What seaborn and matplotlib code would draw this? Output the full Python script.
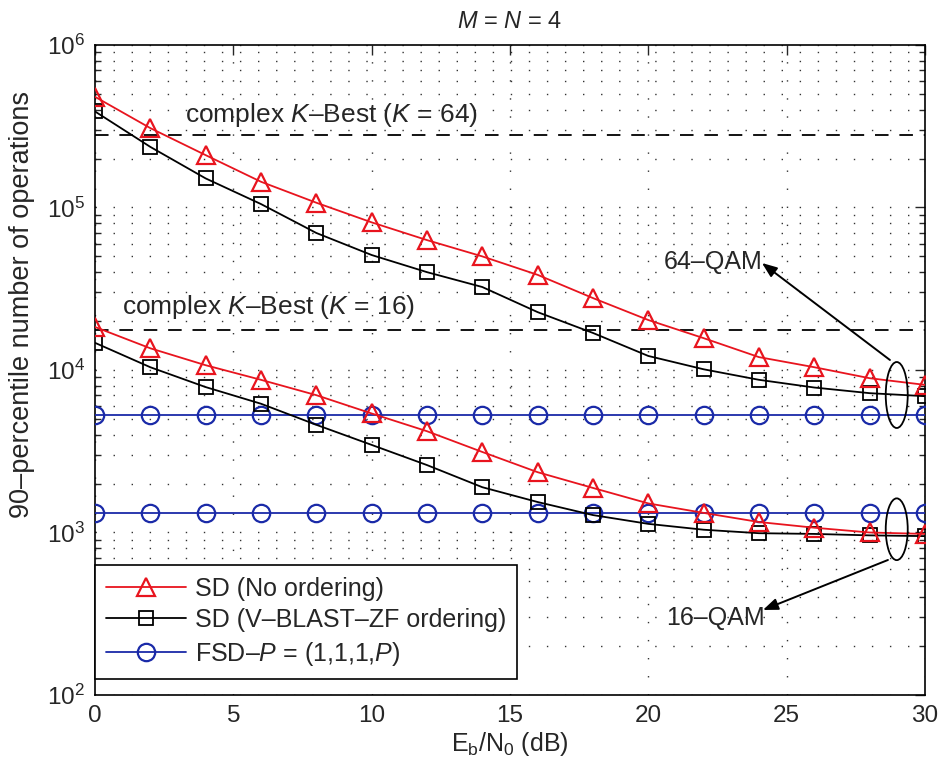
import numpy as np
import pandas as pd
import matplotlib
matplotlib.use("Agg")
import matplotlib.pyplot as plt
import seaborn as sns
from matplotlib.patches import Ellipse
from matplotlib.lines import Line2D
from matplotlib.ticker import LogLocator, FixedLocator, NullFormatter

# ---------------- data ----------------
snr_db = [0, 2, 4, 6, 8, 10, 12, 14, 16, 18, 20, 22, 24, 26, 28, 30]

sd_noorder_64 = [4.8e5, 3.08e5, 2.1e5, 1.44e5, 1.07e5, 8.1e4, 6.3e4, 5.0e4,
                 3.85e4, 2.77e4, 2.03e4, 1.57e4, 1.2e4, 1.04e4, 8.9e3, 8.1e3]
sd_vblast_64 = [3.9e5, 2.36e5, 1.51e5, 1.05e5, 6.97e4, 5.1e4, 4.0e4, 3.24e4,
                2.27e4, 1.69e4, 1.22e4, 1.01e4, 8.7e3, 7.8e3, 7.2e3, 6.9e3]
fsd_64 = [5.3e3] * 16

sd_noorder_16 = [1.84e4, 1.36e4, 1.07e4, 8.7e3, 7.0e3, 5.4e3, 4.2e3, 3.13e3,
                 2.35e3, 1.88e3, 1.51e3, 1.32e3, 1.16e3, 1.07e3, 1.0e3, 9.8e2]
sd_vblast_16 = [1.47e4, 1.04e4, 7.85e3, 6.2e3, 4.6e3, 3.46e3, 2.6e3, 1.9e3,
                1.54e3, 1.28e3, 1.13e3, 1.04e3, 9.9e2, 9.8e2, 9.6e2, 9.5e2]
fsd_16 = [1.32e3] * 16

kbest_64 = 2.8e5
kbest_16 = 1.76e4

legend_labels = ["SD (No ordering)", "SD (V–BLAST–ZF ordering)",
                 "FSD–$P$ = (1,1,1,$P$)"]

# ---------------- style ----------------
sns.set_style("white")
plt.rcParams["font.family"] = ["Liberation Sans", "DejaVu Sans"]
plt.rcParams["mathtext.fontset"] = "custom"
plt.rcParams["mathtext.rm"] = "Liberation Sans"
plt.rcParams["mathtext.it"] = "Liberation Sans:italic"
plt.rcParams["mathtext.bf"] = "Liberation Sans:bold"
plt.rcParams["axes.unicode_minus"] = False

FS_TICK = 17.5
FS_LAB = 18
FS_YLAB = 19.5
FS_LEG = 18
FS_TXT = 19
FS_QAM = 18
FS_TITLE = 17
RED = "#e8141e"
BLUE = "#1a2aa8"

fig = plt.figure(figsize=(9.42, 7.70), dpi=100)
ax = fig.add_axes([0.1008, 0.0974, 0.8811, 0.8442])

frames = []
series = [
    ("noorder", "64", sd_noorder_64),
    ("vblast", "64", sd_vblast_64),
    ("fsd", "64", fsd_64),
    ("noorder", "16", sd_noorder_16),
    ("vblast", "16", sd_vblast_16),
    ("fsd", "16", fsd_16),
]
for alg, qam, vals in series:
    frames.append(pd.DataFrame({"snr": snr_db, "ops": vals, "alg": alg, "qam": qam}))
df = pd.concat(frames, ignore_index=True)

styles = {
    "noorder": dict(color=RED, marker="^", markersize=12.5, mfc="none", mew=1.6),
    "vblast": dict(color="black", marker="s", markersize=9.5, mfc="none", mew=1.3),
    "fsd": dict(color=BLUE, marker="o", markersize=12.5, mfc="none", mew=1.6),
}
order = ["fsd", "vblast", "noorder"]
for qam in ["64", "16"]:
    for alg in order:
        sub = df[(df.alg == alg) & (df.qam == qam)]
        st = styles[alg]
        sns.lineplot(data=sub, x="snr", y="ops", ax=ax, color=st["color"],
                     marker=st["marker"], markersize=st["markersize"],
                     markerfacecolor=st["mfc"], markeredgecolor=st["color"],
                     markeredgewidth=st["mew"], linewidth=1.3,
                     legend=False, zorder=3)

# K-Best dashed references
for v in [kbest_64, kbest_16]:
    ax.axhline(v, color="black", lw=1.3, dashes=(7.5, 6), zorder=2)

ax.set_yscale("log")
ax.set_xlim(0, 30)
ax.set_ylim(1e2, 1e6)

ax.xaxis.set_major_locator(FixedLocator([0, 5, 10, 15, 20, 25, 30]))
ax.yaxis.set_major_locator(LogLocator(base=10, numticks=10))
ax.yaxis.set_minor_locator(LogLocator(base=10, subs=np.arange(2, 10), numticks=20))
ax.yaxis.set_minor_formatter(NullFormatter())

ax.tick_params(axis="both", which="major", direction="in", length=7, width=1,
               top=True, right=True, labelsize=FS_TICK, pad=7)
ax.tick_params(axis="y", which="minor", direction="in", length=4, width=1,
               left=True, right=True)

grid_kw = dict(color="#333333", linewidth=1.0, linestyle=(0, (1.0, 12.0)))
ax.grid(True, which="major", axis="both", **grid_kw)
ax.grid(True, which="minor", axis="y", **grid_kw)
ax.set_axisbelow(True)

for s in ax.spines.values():
    s.set_color("black")
    s.set_linewidth(1.2)

ax.set_xlabel(r"E$_\mathrm{b}$/N$_\mathrm{0}$ (dB)", fontsize=FS_LAB, labelpad=2)
ax.set_ylabel("90–percentile number of operations", fontsize=FS_YLAB)
ax.yaxis.set_label_coords(-0.072, 0.60)
ax.set_title(r"$M$ = $N$ = 4", fontsize=FS_TITLE, pad=12)

# K-Best labels
ax.text(3.25, 3.7e5, r"complex $K$–Best ($K$ = 64)", fontsize=FS_TXT, ha="left", va="center", zorder=4)
ax.text(0.98, 2.44e4, r"complex $K$–Best ($K$ = 16)", fontsize=FS_TXT, ha="left", va="center", zorder=4)

# Ellipses grouping curves
for cy, h in [(0.4615, 0.1015), (0.255, 0.095)]:
    ax.add_patch(Ellipse((0.966, cy), 0.0265, h, transform=ax.transAxes,
                         fill=False, edgecolor="black", lw=1.3, zorder=5))

# Arrows + QAM labels
arrow_kw = dict(arrowstyle="-|>,head_length=0.9,head_width=0.35", color="black",
                lw=1.4, shrinkA=0, shrinkB=0)
ax.annotate("", xy=(0.8036, 0.6646), xytext=(0.9578, 0.5154),
            xycoords="axes fraction", textcoords="axes fraction",
            arrowprops=arrow_kw, zorder=5)
ax.annotate("", xy=(0.8048, 0.1308), xytext=(0.9554, 0.2077),
            xycoords="axes fraction", textcoords="axes fraction",
            arrowprops=arrow_kw, zorder=5)
ax.text(0.745, 0.666, "64–QAM", transform=ax.transAxes, fontsize=FS_QAM,
        ha="center", va="center", zorder=5)
ax.text(0.748, 0.118, "16–QAM", transform=ax.transAxes, fontsize=FS_QAM,
        ha="center", va="center", zorder=5)

# Legend
handles = [
    Line2D([], [], color=RED, marker="^", markersize=12.5, mfc="none", mec=RED, mew=1.6, lw=1.3),
    Line2D([], [], color="black", marker="s", markersize=9.5, mfc="none", mec="black", mew=1.3, lw=1.3),
    Line2D([], [], color=BLUE, marker="o", markersize=12.5, mfc="none", mec=BLUE, mew=1.6, lw=1.3),
]
leg = ax.legend(handles, legend_labels, loc="lower left", bbox_to_anchor=(0.0, 0.025),
                borderaxespad=0, fontsize=FS_LEG, frameon=True, fancybox=False,
                handlelength=3.2, handletextpad=0.35, labelspacing=0.3,
                borderpad=0.45, framealpha=1)
leg.get_frame().set_edgecolor("black")
leg.get_frame().set_linewidth(1.2)
leg.set_zorder(6)

fig.savefig("out.png", dpi=100)
